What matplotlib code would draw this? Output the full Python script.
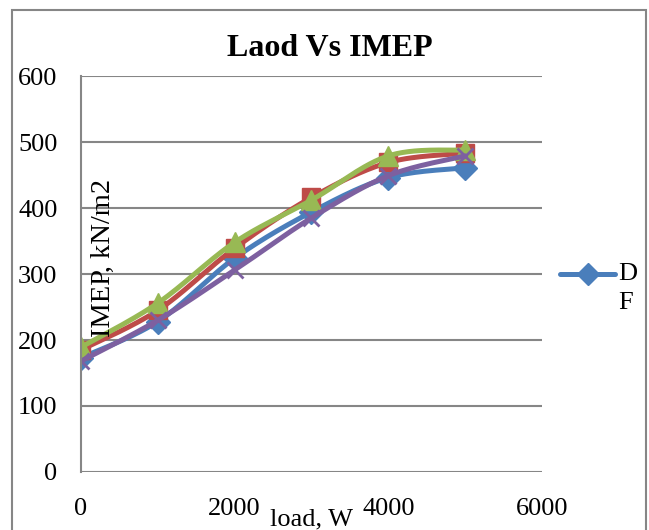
#!/usr/bin/env python3
"""
Laod Vs IMEP 曲线图
"""

import numpy as np
import matplotlib
matplotlib.use('Agg')
import matplotlib.pyplot as plt
from matplotlib.lines import Line2D
from matplotlib.patches import Rectangle

plt.rcParams['font.family'] = ['Liberation Serif', 'DejaVu Serif']

# 数据
load = [0, 1000, 2000, 3000, 4000, 5000]
imep_blue = [173, 228, 324, 394, 446, 461]
imep_red = [185, 245, 339, 416, 469, 483]
imep_green = [189, 256, 348, 412, 479, 488]
imep_purple = [168, 230, 306, 385, 449, 479]

x_ticks = [0, 2000, 4000, 6000]
y_ticks = [0, 100, 200, 300, 400, 500, 600]


def smooth(xs, ys, n=30):
    """Excel 风格平滑曲线 (Catmull-Rom -> Bezier)"""
    p = np.column_stack([xs, ys]).astype(float)
    p = np.vstack([p[0], p, p[-1]])
    out = []
    t = np.linspace(0, 1, n)[:, None]
    for i in range(1, len(p) - 2):
        p0, p1, p2, p3 = p[i - 1], p[i], p[i + 1], p[i + 2]
        c1 = p1 + (p2 - p0) / 6
        c2 = p2 - (p3 - p1) / 6
        seg = ((1 - t) ** 3) * p1 + 3 * ((1 - t) ** 2) * t * c1 + 3 * (1 - t) * t ** 2 * c2 + t ** 3 * p2
        out.append(seg if i == 1 else seg[1:])
    s = np.vstack(out)
    return s[:, 0], s[:, 1]


fig = plt.figure(figsize=(6.49, 5.30), dpi=100)
ax = fig.add_axes([81 / 649, 1 - 472 / 530, (542 - 81) / 649, (472 - 76) / 530])

series = [
    (imep_blue, '#4A7EBB', 'D', 12),
    (imep_red, '#BE4B48', 's', 13),
    (imep_green, '#98B954', '^', 14),
    (imep_purple, '#7D60A0', 'x', 12),
]
for ys, col, mk, ms in series:
    sx, sy = smooth(load, ys)
    ax.plot(sx, sy, color=col, linewidth=3.6, solid_capstyle='round')
    ax.plot(load, ys, linestyle='none', marker=mk, color=col, markersize=ms,
            markeredgewidth=2 if mk == 'x' else 1, markeredgecolor=col)

ax.set_xlim(0, 6000)
ax.set_ylim(0, 600)
ax.set_xticks(x_ticks)
ax.set_yticks(y_ticks)
ax.tick_params(length=0, labelsize=19)
ax.tick_params(axis='x', pad=19)
ax.tick_params(axis='y', pad=17)
ax.grid(axis='y', color='#868686', linewidth=1.5)
ax.set_axisbelow(True)
for side in ['top', 'right', 'bottom']:
    ax.spines[side].set_visible(False)
ax.spines['left'].set_color('#868686')
ax.spines['left'].set_linewidth(1.5)

fig.text(330 / 649, 1 - 48 / 530, 'Laod Vs IMEP', ha='center', va='center',
         fontsize=23, fontweight='bold')
ax.text(0.048, 0.54, 'IMEP, kN/m2', transform=ax.transAxes, rotation=90,
        ha='center', va='center', fontsize=20.5)
fig.text(311 / 649, 1 - 519 / 530, 'load, W', ha='center', va='center', fontsize=19)

# 图例 (被截断)
fig.add_artist(Line2D([560 / 649, 615 / 649], [1 - 274 / 530, 1 - 274 / 530],
                      color='#4A7EBB', linewidth=3.6, solid_capstyle='round'))
fig.add_artist(Line2D([588 / 649], [1 - 274 / 530], marker='D', color='#4A7EBB',
                      markersize=11))
fig.text(618 / 649, 1 - 274 / 530, 'D', ha='left', va='center', fontsize=19)
fig.text(618 / 649, 1 - 303 / 530, 'F', ha='left', va='center', fontsize=19)

# 外框
fig.add_artist(Rectangle((12 / 649, -0.1), (646 - 12) / 649, 1.1 - 10 / 530,
                         transform=fig.transFigure, fill=False,
                         edgecolor='#868686', linewidth=1.5))

fig.savefig('out.png', dpi=100)
